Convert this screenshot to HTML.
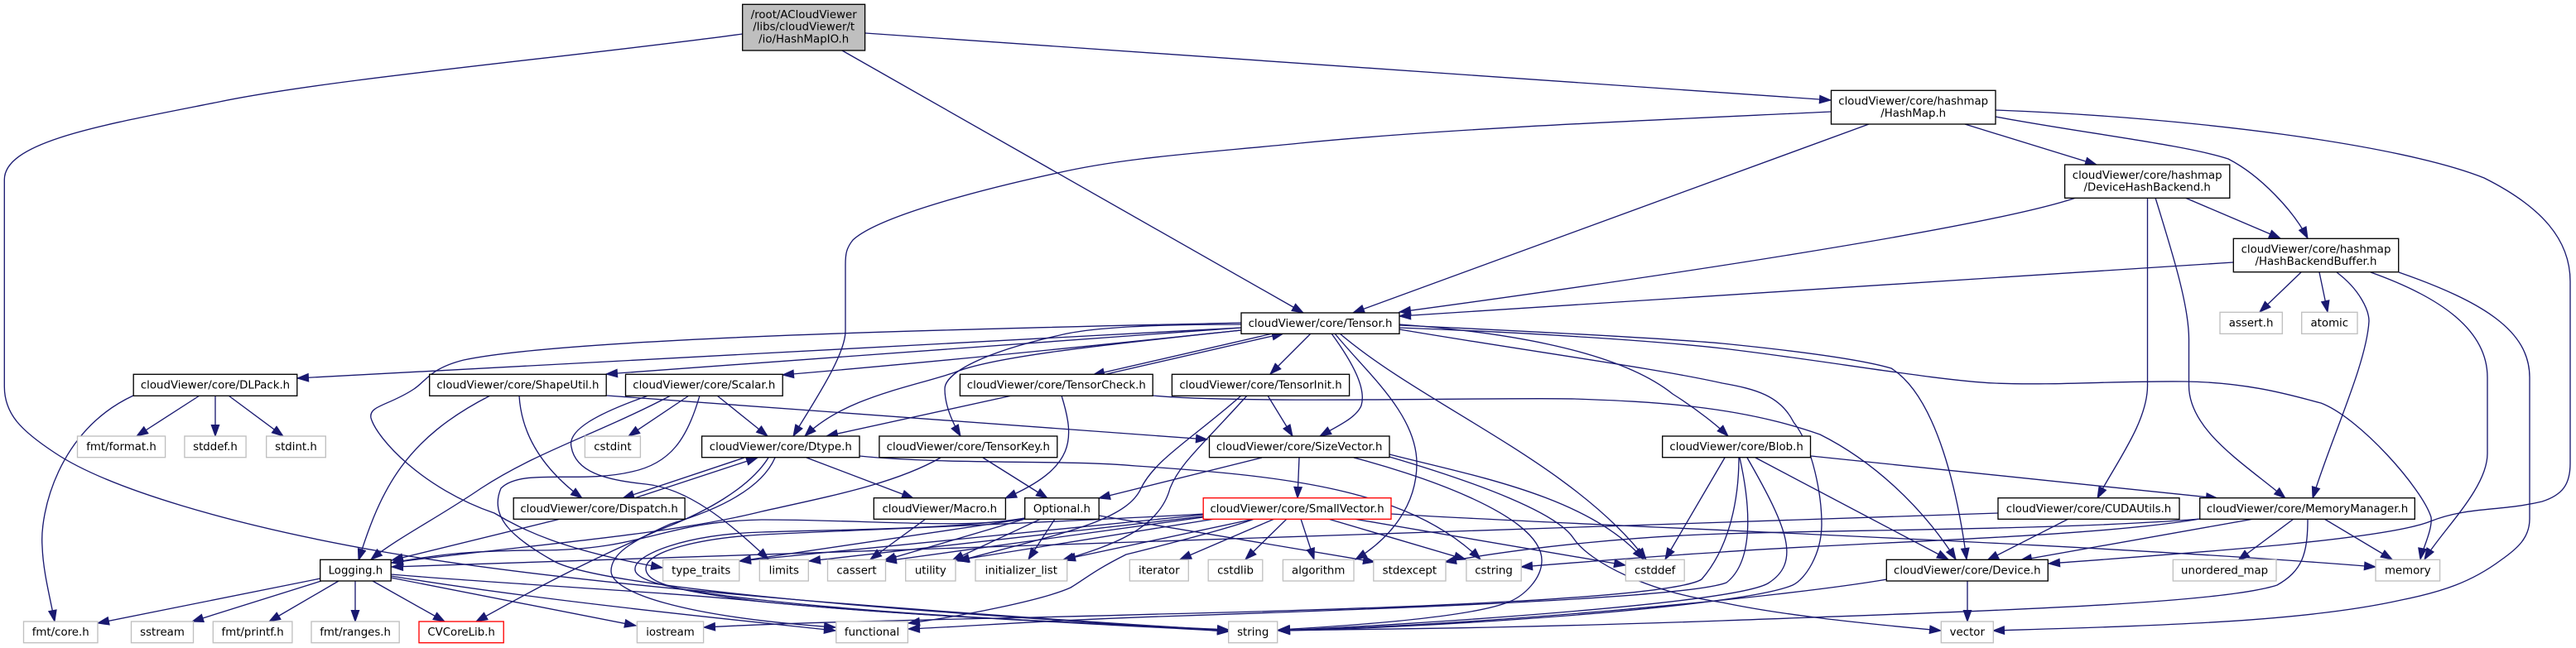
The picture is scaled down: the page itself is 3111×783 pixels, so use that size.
<!DOCTYPE html>
<html><head><meta charset="utf-8"><title>HashMapIO.h include graph</title>
<style>
html,body{margin:0;padding:0;background:#fff;width:3111px;height:783px;overflow:hidden}
svg{display:block}
text{font-family:"DejaVu Sans",sans-serif;font-size:13.33px;text-anchor:middle;fill:#000}
.b rect{fill:#fff;stroke:#000;stroke-width:1.33}
.g rect{fill:#fff;stroke:#bfbfbf;stroke-width:1.33}
.r rect{fill:#fff;stroke:#f00;stroke-width:1.33}
</style></head><body>
<svg xmlns="http://www.w3.org/2000/svg" width="3111" height="783" viewBox="0 0 3111 783">
<defs><marker id="a" markerUnits="userSpaceOnUse" markerWidth="16" markerHeight="12" refX="14" refY="6" orient="auto" overflow="visible"><path d="M0.5,1.2 L14,6 L0.5,10.8 Z" fill="#191970" stroke="#191970" stroke-width="1"/></marker></defs>
<g fill="none" stroke="#191970" stroke-width="1.33" marker-end="url(#a)">
<!-- root -->
<path d="M897,41 C700,68 400,95 265,123 C130,150 5.3,170 5.3,217 L5.3,467 C5.3,500 25,520 66,547 C130,590 280,635 464,667 C700,708 1100,738 1484,762"/>
<path d="M1017,61 L1574,378"/>
<path d="M1045,40 L2211,121"/>
<!-- HashMap -->
<path d="M2257,150 L1634,378"/>
<path d="M2211,135 C2000,145 1750,155 1570,173 C1450,185 1360,190 1277,209 C1180,230 1060,262 1030,290 C1022,300 1021,307 1021,320 L1021,400 C1021,430 980,490 958,527"/>
<path d="M2373,150 L2532,199"/>
<path d="M2410,141 C2510,160 2640,175 2691,192 C2730,212 2770,255 2787,288"/>
<path d="M2410,133 C2650,142 2900,175 3000,215 C3070,250 3104,290 3104,340 L3104,560 C3104,585 3095,598 3070,606 C3020,618 2980,612 2935,630 C2880,652 2650,668 2474,681"/>
<!-- DeviceHashBackend -->
<path d="M2507,239 C2400,275 2000,335 1690,377"/>
<path d="M2639,239 L2754,288"/>
<path d="M2593.5,239 L2593.5,466 C2593.5,510 2555,560 2533,602"/>
<path d="M2603,239 C2625,310 2643.5,370 2643.5,410 L2643.5,466 C2643.5,520 2710,560 2760,602"/>
<!-- HashBackendBuffer -->
<path d="M2697,317 L1690,382"/>
<path d="M2779,329 L2729,377"/>
<path d="M2801,329 L2811,377"/>
<path d="M2822,329 C2850,350 2861,375 2861,388 C2858,440 2815,530 2793,602"/>
<path d="M2863,329 C2950,360 3004,400 3004,456 L3004,548 C3004,590 2950,640 2928,676"/>
<path d="M2897,329 C3000,365 3055,400 3055,456 L3055,627 C3055,650 3040,663 3020,677 C2985,703 2950,715 2900,725 C2780,752 2600,756 2407,762"/>
<!-- Tensor -->
<path d="M1499,396 L359,457"/>
<path d="M1499,396 L732,452"/>
<path d="M1499,399 C1300,420 1100,440 945,453"/>
<path d="M1499,390 C1300,395 700,405 560,435 C520,445 515,460 500,470 C470,490 445,490 448,505 C455,530 510,590 597,620 C630,640 680,665 800,686"/>
<path d="M1499,399 C1350,415 1200,430 1153,450 C1100,468 1020,480 972,527"/>
<path d="M1499,392 C1400,392 1320,395 1280,405 C1190,425 1141,450 1141,470 C1141,490 1150,510 1160,527"/>
<path d="M1537,403 L1320,453"/>
<path d="M1332,453 L1550,403"/>
<path d="M1583,403 L1534,452"/>
<path d="M1608,403 C1635,440 1650,470 1644,490 C1638,505 1615,515 1594,527"/>
<path d="M1612,403 C1650,450 1711,500 1711,560 C1711,610 1680,650 1637,676"/>
<path d="M1618,403 C1720,490 1900,560 1988,676"/>
<path d="M1690,392 C1800,400 1950,420 2020,476 C2050,495 2075,515 2087,527"/>
<path d="M1690,393 C1800,398 2000,408 2080,415 C2180,425 2250,435 2284,445 C2340,480 2365,600 2375,676"/>
<path d="M1690,396 C1850,402 2000,412 2080,421 C2200,435 2340,460 2409,463 C2480,466 2560,460 2639,461 C2720,462 2775,480 2803,487 C2850,505 2925,590 2936,625 C2938,640 2925,665 2923,676"/>
<path d="M1690,398 C1850,425 2000,445 2080,463 C2120,470 2150,478 2166,510 C2190,540 2200,600 2200,633 C2200,670 2180,700 2165,707 C2100,735 1700,760 1544,762"/>
<!-- DLPack -->
<path d="M161,478 C70,520 48,620 51,660 C52,690 60,720 66,751"/>
<path d="M241,478 L165,527"/>
<path d="M260,478 L260,527"/>
<path d="M276,478 L342,527"/>
<!-- ShapeUtil -->
<path d="M592,478 C490,530 460,590 433,677"/>
<path d="M627,478 C630,530 660,570 703,602"/>
<path d="M733,478 L1458,531"/>
<!-- Scalar -->
<path d="M810,478 C720,525 650,545 581,590 C530,625 480,650 448,676"/>
<path d="M866,478 L927,527"/>
<path d="M832,478 L759,527"/>
<path d="M845,478 C830,530 810,560 763,570 C700,585 630,565 605,590 C590,625 620,650 667,677 C720,710 1100,740 1484,762"/>
<path d="M783,478 C720,500 685,520 690,540 C695,570 730,580 780,585 C830,590 880,630 928,676"/>
<!-- TensorCheck -->
<path d="M1222,478 L998,527"/>
<path d="M1282,478 C1298,530 1300,565 1214,602"/>
<path d="M1392,478 C1500,488 1800,480 1902,482 C1990,485 2100,490 2198,525 C2260,556 2320,610 2362,676"/>
<!-- TensorKey -->
<path d="M1187,553 L1265,602"/>
<path d="M1136,553 C1080,585 1000,600 920,618 C800,648 620,660 473,680"/>
<!-- TensorInit -->
<path d="M1531,478 L1561,527"/>
<path d="M1499,478 C1440,530 1395,555 1378,590 C1360,630 1280,645 1157,678"/>
<path d="M1506,478 C1450,540 1425,560 1413,590 C1400,640 1340,660 1283,677"/>
<!-- Dtype -->
<path d="M899,553 L752,602"/>
<path d="M766,602 L915,553"/>
<path d="M928,553 C905,590 850,620 797,640 C700,682 640,715 575,751"/>
<path d="M936,553 C920,590 870,615 810,633 C760,655 738,670 738,690 C738,715 820,745 1009,758"/>
<path d="M974,553 L1103,602"/>
<path d="M1038,551 C1150,562 1280,555 1372,563 C1550,575 1700,590 1788,676"/>
<!-- Dispatch -->
<path d="M677,627 L473,677"/>
<!-- Macro -->
<path d="M1118,627 L1051,676"/>
<!-- SizeVector -->
<path d="M1524,553 L1327,602"/>
<path d="M1569,553 L1567,602"/>
<path d="M1678,549 C1780,575 1920,600 1985,676"/>
<path d="M1635,553 C1700,570 1862,620 1862,677 C1862,700 1840,720 1823,727 C1780,745 1650,755 1544,761"/>
<path d="M1678,552 C1790,585 1880,620 1900,650 C1920,680 1990,715 2080,728 C2160,745 2270,755 2344,762"/>
<!-- Optional -->
<path d="M1238,626 C1170,640 1050,628 920,628 C800,630 780,665 650,665 C560,665 520,672 473,680"/>
<path d="M1238,627 L893,678"/>
<path d="M1238,627 L1068,677"/>
<path d="M1257,627 L1150,677"/>
<path d="M1274,627 L1242,676"/>
<path d="M1327,623 L1660,679"/>
<path d="M1238,626 C1150,640 1000,640 920,643 C830,645 767,670 767,687 C765,700 800,712 920,725 C1100,745 1300,752 1484,762"/>
<!-- SmallVector -->
<path d="M1539,627 L1425,676"/>
<path d="M1554,627 L1504,676"/>
<path d="M1571,627 L1587,676"/>
<path d="M1604,627 L1770,676"/>
<path d="M1635,627 L1963,683"/>
<path d="M1680,621 C1900,635 2500,655 2869,685"/>
<path d="M1453,622 L893,678"/>
<path d="M1453,624 L977,678"/>
<path d="M1453,625 L1069,678"/>
<path d="M1467,627 L1156,677"/>
<path d="M1515,627 L1285,676"/>
<path d="M1515,627 C1480,640 1400,660 1360,670 C1320,690 1310,700 1293,710 C1260,725 1160,745 1097,753"/>
<path d="M1453,621 C1300,630 1000,642 920,646 C850,650 780,665 780,687 C780,705 820,715 920,727 C1100,745 1300,752 1484,761"/>
<!-- Blob -->
<path d="M2187,551 L2678,602"/>
<path d="M2120,553 L2353,676"/>
<path d="M2083,553 L2011,676"/>
<path d="M2100,553 C2100,600 2090,660 2055,700 C2020,722 1700,735 1400,742 C1200,748 1000,750 850,758"/>
<path d="M2101,553 C2116,620 2116,680 2085,704 C2040,722 1700,735 1400,745 C1250,750 1170,757 1097,760"/>
<path d="M2110,553 C2160,640 2175,680 2135,705 C2090,730 1700,755 1544,762"/>
<!-- CUDAUtils -->
<path d="M2413,620 C2000,633 1400,655 473,685"/>
<path d="M2498,627 L2400,677"/>
<!-- MemoryManager -->
<path d="M2657,627 C2500,640 2240,640 2080,645 C1980,648 1850,660 1745,679"/>
<path d="M2657,627 C2520,650 2240,655 2080,667 C2000,672 1900,680 1837,685"/>
<path d="M2722,627 L2440,677"/>
<path d="M2770,627 L2703,677"/>
<path d="M2807,627 L2889,676"/>
<path d="M2787,627 C2787,670 2780,690 2750,707 C2680,730 2400,738 2080,750 C1800,760 1650,760 1544,762"/>
<!-- Device -->
<path d="M2376,702 L2376,751"/>
<path d="M2279,700 C2150,722 1800,755 1544,762"/>
<!-- Logging -->
<path d="M472,698 L768,756"/>
<path d="M472,696 C650,725 850,745 1009,762"/>
<path d="M472,694 C600,705 800,715 920,727 C1100,745 1300,752 1484,763"/>
<path d="M450,702 L537,751"/>
<path d="M429,702 L429,751"/>
<path d="M409,702 L325,751"/>
<path d="M388,702 L232,751"/>
<path d="M387,699 L118,753"/>
</g>
<g class="b">
<rect x="896.7" y="5.3" width="147.9" height="55.7" style="fill:#bfbfbf"/>
<text x="970.7" y="22">/root/ACloudViewer</text><text x="970.7" y="36.7">/libs/cloudViewer/t</text><text x="970.7" y="51.3">/io/HashMapIO.h</text>
<rect x="2211.5" y="109.3" width="198.5" height="40.7"/><text x="2310.7" y="126.5">cloudViewer/core/hashmap</text><text x="2310.7" y="141">/HashMap.h</text>
<rect x="2493.6" y="199" width="199.2" height="40.3"/><text x="2593.2" y="216">cloudViewer/core/hashmap</text><text x="2593.2" y="230.7">/DeviceHashBackend.h</text>
<rect x="2697.3" y="288.3" width="199.4" height="40.4"/><text x="2797" y="305.5">cloudViewer/core/hashmap</text><text x="2797" y="320">/HashBackendBuffer.h</text>
<rect x="1499" y="378" width="191" height="25.3"/><text x="1594.5" y="395">cloudViewer/core/Tensor.h</text>
<rect x="161.2" y="452.3" width="197.6" height="26"/><text x="260" y="469.6">cloudViewer/core/DLPack.h</text>
<rect x="518.7" y="452.3" width="213.5" height="26"/><text x="625.4" y="469.6">cloudViewer/core/ShapeUtil.h</text>
<rect x="755.5" y="452.3" width="189.7" height="26"/><text x="850.3" y="469.6">cloudViewer/core/Scalar.h</text>
<rect x="1159.4" y="452.3" width="232.8" height="26"/><text x="1275.8" y="469.6">cloudViewer/core/TensorCheck.h</text>
<rect x="1415.4" y="452.3" width="214.2" height="26"/><text x="1522.5" y="469.6">cloudViewer/core/TensorInit.h</text>
<rect x="847.6" y="527" width="190.4" height="25.7"/><text x="942.8" y="544.2">cloudViewer/core/Dtype.h</text>
<rect x="1061.9" y="527" width="214.9" height="25.7"/><text x="1169.3" y="544.2">cloudViewer/core/TensorKey.h</text>
<rect x="1460.5" y="527" width="217.5" height="25.7"/><text x="1569.2" y="544.2">cloudViewer/core/SizeVector.h</text>
<rect x="2007.7" y="527" width="178.8" height="25.7"/><text x="2097.1" y="544.2">cloudViewer/core/Blob.h</text>
<rect x="620.2" y="601.7" width="206.9" height="25.6"/><text x="723.6" y="619">cloudViewer/core/Dispatch.h</text>
<rect x="1055.3" y="601.7" width="159.1" height="25.6"/><text x="1134.8" y="619">cloudViewer/Macro.h</text>
<rect x="1237.7" y="601.7" width="89.5" height="25.6"/><text x="1282.4" y="619">Optional.h</text>
<rect x="2413" y="601.7" width="219" height="25.6"/><text x="2522.5" y="619">cloudViewer/core/CUDAUtils.h</text>
<rect x="2656.7" y="601.7" width="259.6" height="25.6"/><text x="2786.5" y="619">cloudViewer/core/MemoryManager.h</text>
<rect x="386.7" y="676.3" width="85.5" height="25.7"/><text x="429.4" y="693.5">Logging.h</text>
<rect x="2278.3" y="676.3" width="195" height="25.7"/><text x="2375.8" y="693.5">cloudViewer/core/Device.h</text>
</g>
<g class="r">
<rect x="1453.2" y="601.7" width="226.8" height="25.6"/><text x="1566.6" y="619">cloudViewer/core/SmallVector.h</text>
<rect x="506" y="751" width="102.2" height="25.7"/><text x="557.1" y="768.2">CVCoreLib.h</text>
</g>
<g class="g">
<rect x="2681" y="377.3" width="75.3" height="26"/><text x="2718.6" y="394.6">assert.h</text>
<rect x="2779.7" y="377.3" width="67.3" height="26"/><text x="2813.3" y="394.6">atomic</text>
<rect x="93.5" y="527" width="106.1" height="25.7"/><text x="146.5" y="544.2">fmt/format.h</text>
<rect x="222.9" y="527" width="74.2" height="25.7"/><text x="260" y="544.2">stddef.h</text>
<rect x="321.7" y="527" width="71.6" height="25.7"/><text x="357.5" y="544.2">stdint.h</text>
<rect x="706.4" y="527" width="67" height="25.7"/><text x="739.9" y="544.2">cstdint</text>
<rect x="800.6" y="676.3" width="92.2" height="25.7"/><text x="846.7" y="693.5">type_traits</text>
<rect x="917.3" y="676.3" width="59" height="25.7"/><text x="946.8" y="693.5">limits</text>
<rect x="999.5" y="676.3" width="70" height="25.7"/><text x="1034.5" y="693.5">cassert</text>
<rect x="1093.7" y="676.3" width="60.3" height="25.7"/><text x="1123.8" y="693.5">utility</text>
<rect x="1178" y="676.3" width="110.7" height="25.7"/><text x="1233.3" y="693.5">initializer_list</text>
<rect x="1364.3" y="676.3" width="71" height="25.7"/><text x="1399.8" y="693.5">iterator</text>
<rect x="1459.2" y="676.3" width="65.6" height="25.7"/><text x="1492" y="693.5">cstdlib</text>
<rect x="1549.4" y="676.3" width="85.6" height="25.7"/><text x="1592.2" y="693.5">algorithm</text>
<rect x="1658.8" y="676.3" width="87.2" height="25.7"/><text x="1702.4" y="693.5">stdexcept</text>
<rect x="1770.9" y="676.3" width="66.3" height="25.7"/><text x="1804" y="693.5">cstring</text>
<rect x="1963.3" y="676.3" width="70.9" height="25.7"/><text x="1998.7" y="693.5">cstddef</text>
<rect x="2624.3" y="676.3" width="124.7" height="25.7"/><text x="2686.6" y="693.5">unordered_map</text>
<rect x="2869" y="676.3" width="77.6" height="25.7"/><text x="2907.8" y="693.5">memory</text>
<rect x="28.5" y="751" width="89.5" height="25.7"/><text x="73.2" y="768.2">fmt/core.h</text>
<rect x="158.5" y="751" width="75" height="25.7"/><text x="196" y="768.2">sstream</text>
<rect x="257.3" y="751" width="95.6" height="25.7"/><text x="305.1" y="768.2">fmt/printf.h</text>
<rect x="376" y="751" width="106.2" height="25.7"/><text x="429.1" y="768.2">fmt/ranges.h</text>
<rect x="769.4" y="751" width="80.2" height="25.7"/><text x="809.5" y="768.2">iostream</text>
<rect x="1009.8" y="751" width="86.6" height="25.7"/><text x="1053.1" y="768.2">functional</text>
<rect x="1483.7" y="751" width="59" height="25.7"/><text x="1513.2" y="768.2">string</text>
<rect x="2344.3" y="751" width="63" height="25.7"/><text x="2375.8" y="768.2">vector</text>
</g>
</svg>
</body></html>
